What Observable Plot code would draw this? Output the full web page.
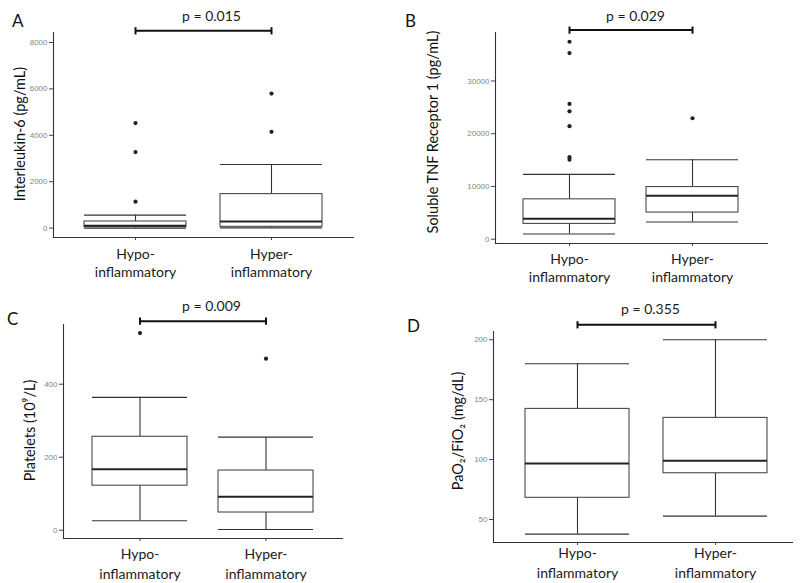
<!DOCTYPE html>
<html>
<head>
<meta charset="utf-8">
<script src="https://cdn.jsdelivr.net/npm/d3@7"></script>
<script src="https://cdn.jsdelivr.net/npm/@observablehq/plot@0.6"></script>
<style>
  html, body { margin: 0; padding: 0; background: #fff; }
  #wrap { position: relative; width: 800px; height: 583px; overflow: hidden; font-family: Lato, "Open Sans", sans-serif; }
  .panel { position: absolute; }
  .letter { position: absolute; font-family: Lato, "Open Sans", sans-serif; font-size: 17px; line-height: 1; color: #111; }
</style>
</head>
<body>
<div id="wrap"></div>
<script>
// ---------- data ----------
const groups = ["Hypo-inflammatory", "Hyper-inflammatory"];

// A: Interleukin-6 (pg/mL)  [Hypo, Hyper]
const il6Low = [0, 10];
const il6Q1 = [40, 55];
const il6Median = [100, 285];
const il6Q3 = [285, 1465];
const il6High = [560, 2740];
const il6OutHypo = [4525, 3275, 1140];
const il6OutHyper = [5800, 4150];
const il6Ticks = [0, 2000, 4000, 6000, 8000];
const il6Domain = [-405, 8431];

// B: Soluble TNF Receptor 1 (pg/mL)
const tnfLow = [1000, 3270];
const tnfQ1 = [2900, 5050];
const tnfMedian = [3900, 8260];
const tnfQ3 = [7560, 9890];
const tnfHigh = [12300, 15060];
const tnfOutHypo = [37430, 35290, 25650, 24250, 21420, 15560, 15060];
const tnfOutHyper = [22930];
const tnfTicks = [0, 10000, 20000, 30000];
const tnfDomain = [-813, 39187];

// C: Platelets (10^9/L)
const pltLow = [26, 2];
const pltQ1 = [122, 48.5];
const pltMedian = [167, 92];
const pltQ3 = [256, 163.5];
const pltHigh = [364, 255];
const pltOutHypo = [540];
const pltOutHyper = [470];
const pltTicks = [0, 200, 400];
const pltDomain = [-22.7, 563.6];

// D: PaO2/FiO2 (mg/dL)
const pfLow = [37.8, 52.8];
const pfQ1 = [68.1, 88.6];
const pfMedian = [96.8, 99];
const pfQ3 = [142.3, 134.8];
const pfHigh = [180, 200];
const pfOutHypo = [];
const pfOutHyper = [];
const pfTicks = [50, 100, 150, 200];
const pfDomain = [30.8, 206.9];

const panelLetters = ["A", "B", "C", "D"];
const pValues = ["p = 0.015", "p = 0.029", "p = 0.009", "p = 0.355"];
const bracketLevels = [8504, 39640, 572.6, 212.5];
const yLabels = ["Interleukin-6 (pg/mL)", "Soluble TNF Receptor 1 (pg/mL)", "Platelets (10\u2079/L)", "PaO\u2082/FiO\u2082 (mg/dL)"];

// ---------- layout (pixels) ----------
const layout = [
  {left: 0,   top: 0,   width: 400, height: 290, mL: 53, mR: 47, mT: 32, mB: 53, po: 0.22, align: 0.5,  pdx: 8,   pdy: -16, ldx: -33, ldy: -1, tp: 5.5, lh: 1.31, letter: [12, 12]},
  {left: 400, top: 0,   width: 400, height: 290, mL: 95, mR: 33, mT: 32, mB: 47, po: 0.226, align: 0.5, pdx: 4,   pdy: -16, ldx: -62, ldy: -6, tp: 4.5, lh: 1.31, letter: [405, 12]},
  {left: 0,   top: 290, width: 400, height: 293, mL: 63, mR: 58, mT: 34, mB: 45, po: 0.224, align: 0.5, pdx: 8.5, pdy: -18, ldx: -33, ldy: -1, tp: 4, lh: 1.38, letter: [7, 310]},
  {left: 400, top: 290, width: 400, height: 293, mL: 93, mR: 8,  mT: 41, mB: 41, po: 0.204, align: 0.56, pdx: 7.5, pdy: -22, ldx: -35, ldy: -6, tp: -1, lh: 1.38, letter: [407, 317]}
];

const panels = [
  {low: il6Low, q1: il6Q1, median: il6Median, q3: il6Q3, high: il6High, outHypo: il6OutHypo, outHyper: il6OutHyper, ticks: il6Ticks, domain: il6Domain},
  {low: tnfLow, q1: tnfQ1, median: tnfMedian, q3: tnfQ3, high: tnfHigh, outHypo: tnfOutHypo, outHyper: tnfOutHyper, ticks: tnfTicks, domain: tnfDomain},
  {low: pltLow, q1: pltQ1, median: pltMedian, q3: pltQ3, high: pltHigh, outHypo: pltOutHypo, outHyper: pltOutHyper, ticks: pltTicks, domain: pltDomain},
  {low: pfLow, q1: pfQ1, median: pfMedian, q3: pfQ3, high: pfHigh, outHypo: pfOutHypo, outHyper: pfOutHyper, ticks: pfTicks, domain: pfDomain}
];

const capSymbol = {
  draw(ctx, size) {
    const h = Math.sqrt(size / Math.PI);
    ctx.moveTo(0, -h);
    ctx.lineTo(0, h);
  }
};

function makePanel(i) {
  const cfg = panels[i], L = layout[i];
  const stats = groups.map((g, k) => ({
    group: g, low: cfg.low[k], q1: cfg.q1[k], med: cfg.median[k], q3: cfg.q3[k], high: cfg.high[k]
  }));
  const outliers = [
    ...cfg.outHypo.map(v => ({group: groups[0], value: v})),
    ...cfg.outHyper.map(v => ({group: groups[1], value: v}))
  ];
  const bracket = [{a: groups[0], b: groups[1], y: bracketLevels[i]}];
  const bracketEnds = groups.map(g => ({g, y: bracketLevels[i]}));

  return Plot.plot({
    width: L.width,
    height: L.height,
    marginLeft: L.mL,
    marginRight: L.mR,
    marginTop: L.mT,
    marginBottom: L.mB,
    style: {fontFamily: "Lato, 'Open Sans', sans-serif", background: "transparent", overflow: "visible"},
    x: {type: "band", domain: groups, paddingInner: 0.25, paddingOuter: L.po, align: L.align, axis: null},
    y: {domain: cfg.domain, axis: null},
    marks: [
      Plot.frame({anchor: "left", stroke: "#333", strokeWidth: 1.1}),
      Plot.frame({anchor: "bottom", stroke: "#333", strokeWidth: 1.1}),
      Plot.axisY({
        ticks: cfg.ticks, tickSize: 4, tickPadding: 2, label: null,
        tickFormat: d => String(d),
        stroke: "#444", fill: "#858585", fontSize: 8, fontFamily: "'Liberation Sans', Arial, sans-serif"
      }),
      Plot.axisX({
        tickSize: 3, tickPadding: L.tp, label: null,
        tickFormat: d => d.replace("-", "-\n"),
        lineHeight: L.lh, stroke: "#444", fill: "#1a1a1a", fontSize: 14
      }),
      Plot.ruleX(stats, {x: "group", y1: "low", y2: "high", stroke: "#333", strokeWidth: 1.1}),
      Plot.tickY(stats, {x: "group", y: "low", stroke: "#333", strokeWidth: 1.1}),
      Plot.tickY(stats, {x: "group", y: "high", stroke: "#333", strokeWidth: 1.1}),
      Plot.barY(stats, {x: "group", y1: "q1", y2: "q3", fill: "white", stroke: "#4a4a4a", strokeWidth: 1.1}),
      Plot.tickY(stats, {x: "group", y: "med", stroke: "#222", strokeWidth: 2}),
      Plot.dot(outliers, {x: "group", y: "value", r: 2.1, fill: "#222", stroke: "none"}),
      Plot.link(bracket, {x1: "a", x2: "b", y1: "y", y2: "y", stroke: "#111", strokeWidth: 2}),
      Plot.dot(bracketEnds, {x: "g", y: "y", symbol: capSymbol, r: 3.6, stroke: "#111", strokeWidth: 2, fill: "none"}),
      Plot.text([pValues[i]], {text: d => d, frameAnchor: "top", lineAnchor: "middle", textAnchor: "middle", dx: L.pdx, dy: L.pdy, fontSize: 14, fill: "#1a1a1a"}),
      Plot.text([yLabels[i]], {text: d => d, frameAnchor: "left", lineAnchor: "middle", textAnchor: "middle", rotate: -90, dx: L.ldx, dy: L.ldy, fontSize: 14.5, fill: "#111"})
    ]
  });
}

const wrap = document.getElementById("wrap");
layout.forEach((L, i) => {
  const div = document.createElement("div");
  div.className = "panel";
  div.style.left = L.left + "px";
  div.style.top = L.top + "px";
  div.appendChild(makePanel(i));
  wrap.appendChild(div);
  const letter = document.createElement("div");
  letter.className = "letter";
  letter.style.left = L.letter[0] + "px";
  letter.style.top = L.letter[1] + "px";
  letter.textContent = panelLetters[i];
  wrap.appendChild(letter);
});
</script>
</body>
</html>
